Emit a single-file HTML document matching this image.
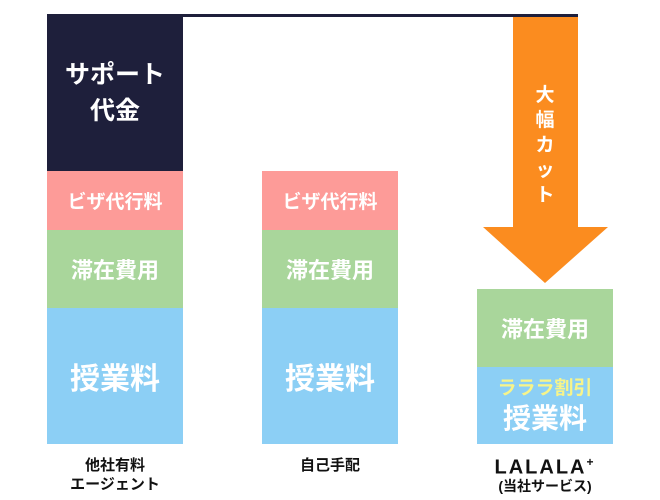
<!DOCTYPE html>
<html><head><meta charset="utf-8"><style>
body{margin:0;width:660px;height:500px;background:#fff;position:relative;overflow:hidden;font-family:"Liberation Sans","Noto Sans CJK JP",sans-serif;}
.b{position:absolute;display:flex;align-items:center;justify-content:center;flex-direction:column;color:#fff;font-weight:bold;text-align:center;}
.n{background:#1e1f3b}.p{background:#fd9b98}.g{background:#a9d69b}.u{background:#8ccff5}
.l{position:absolute;text-align:center;font-size:15px;color:#111;line-height:19px;font-weight:bold;}
</style></head><body>
<div style="position:absolute;left:47px;top:14px;width:531px;height:3px;background:#1e1f3b"></div>
<div class="b n" style="left:47px;top:14px;width:136px;height:157px;font-size:25px;line-height:36px">サポート<br>代金</div>
<div class="b p" style="left:47px;top:171px;width:136px;height:59px;font-size:19px">ビザ代行料</div>
<div class="b g" style="left:47px;top:230px;width:136px;height:78px;font-size:22px">滞在費用</div>
<div class="b u" style="left:47px;top:308px;width:136px;height:136px;font-size:30px">授業料</div>
<div class="b p" style="left:262px;top:171px;width:136px;height:59px;font-size:19px">ビザ代行料</div>
<div class="b g" style="left:262px;top:230px;width:136px;height:78px;font-size:22px">滞在費用</div>
<div class="b u" style="left:262px;top:308px;width:136px;height:136px;font-size:30px">授業料</div>
<div class="b g" style="left:477px;top:289px;width:136px;height:78px;font-size:22px">滞在費用</div>
<div class="b u" style="left:477px;top:367px;width:136px;height:77px;"><div style="color:#f7f48a;font-size:19px;line-height:26px">ラララ割引</div><div style="font-size:28px;line-height:34px">授業料</div></div>
<svg style="position:absolute;left:0;top:0" width="660" height="500"><polygon points="513,17 578,17 578,227 608,227 545,283 483,227 513,227" fill="#fb8c1f"/></svg>
<div class="b" style="left:530px;top:83px;width:30px;font-size:19px;line-height:25px">大<br>幅<br>カ<br>ッ<br>ト</div>
<div class="l" style="left:40px;top:456px;width:150px">他社有料<br>エージェント</div>
<div class="l" style="left:255px;top:456px;width:150px">自己手配</div>
<div class="l" style="left:470px;top:453px;width:150px;font-size:20px;letter-spacing:2px">LALALA<sup style="font-size:12px">+</sup></div>
<div class="l" style="left:470px;top:477px;width:150px;font-size:14px">(当社サービス)</div>
</body></html>
